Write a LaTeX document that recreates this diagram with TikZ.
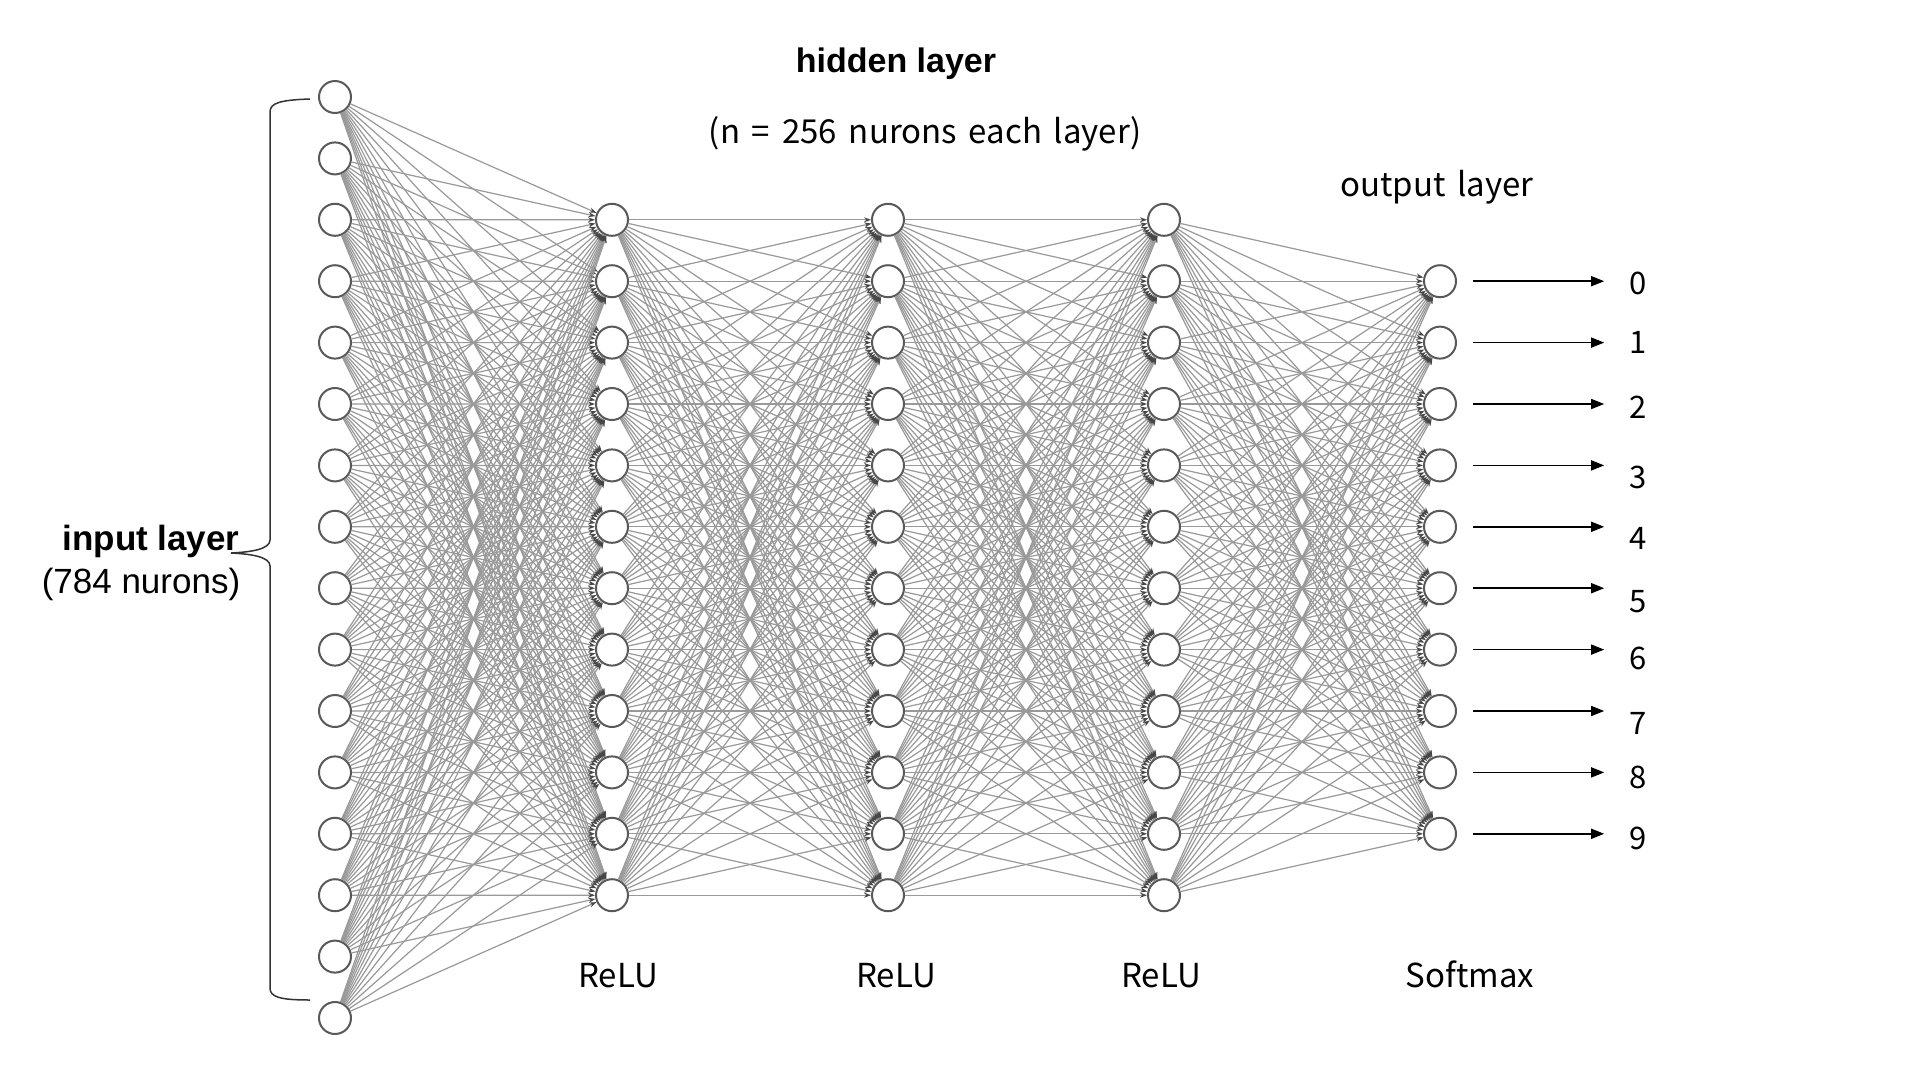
\documentclass[tikz,border=0pt]{standalone}
\usepackage{fontspec}
\setmainfont{Liberation Sans}
\newfontfamily\yhfont[WordSpace=1.6]{Noto Sans CJK SC}
\usetikzlibrary{arrows.meta}
\begin{document}
\begin{tikzpicture}[x=1pt,y=-1pt,
  neuron/.style={circle,draw=black!65,line width=2pt,fill=white,minimum size=32pt,inner sep=0pt},
  conn/.style={draw=black!40,line width=1.2pt,-{Stealth[length=7pt,width=5pt,color=black!72]}},
  outarrow/.style={draw=black,line width=1.5pt,-{Triangle[length=13pt,width=10pt]}},
  lbl/.style={font=\yhfont\fontsize{33}{38}\selectfont,anchor=base,inner sep=0pt},
  digit/.style={font=\yhfont\fontsize{31}{36}\selectfont,anchor=center,inner sep=0pt},
  boldlbl/.style={font=\bfseries\fontsize{34}{40}\selectfont,anchor=base,inner sep=0pt},
  inlbl/.style={font=\bfseries\fontsize{35}{40}\selectfont,anchor=base,inner sep=0pt},
  reglbl/.style={font=\fontsize{35}{40}\selectfont,anchor=base,inner sep=0pt}]
\useasboundingbox[fill=white] (0,0) rectangle (1920,1080);

% neurons
\foreach \k in {0,...,15} \node[neuron] (i\k) at (335,{97+61.4*\k}) {};
\foreach \k in {0,...,11} {
  \node[neuron] (a\k) at (612,{219.8+61.4*\k}) {};
  \node[neuron] (b\k) at (888,{219.8+61.4*\k}) {};
  \node[neuron] (c\k) at (1164,{219.8+61.4*\k}) {};
}
\foreach \k in {0,...,9} \node[neuron] (o\k) at (1440,{281.2+61.4*\k}) {};

% connections
\foreach \s in {0,...,15} \foreach \t in {0,...,11} \draw[conn] (i\s) -- (a\t);
\foreach \s in {0,...,11} \foreach \t in {0,...,11} {
  \draw[conn] (a\s) -- (b\t);
  \draw[conn] (b\s) -- (c\t);
}
\foreach \s in {0,...,11} \foreach \t in {0,...,9} \draw[conn] (c\s) -- (o\t);

% output digits and arrows
\foreach \k/\yy in {0/283,1/342,2/407,3/477,4/538,5/602,6/658,7/723,8/777,9/838} {
  \node[digit] (d\k) at (1638,\yy) {\k};
  \draw[outarrow] ([xshift=16pt]o\k.east) -- ([xshift=-25pt]d\k.west |- o\k.east);
}

% brace for input layer
\draw[black!80,line width=1.5pt] (310,99) .. controls (280,100) and (270,103) .. (270,112)
  -- (270,540) .. controls (270,549) and (252,552) .. (231,553)
  .. controls (252,554) and (270,557) .. (270,566)
  -- (270,988) .. controls (270,997) and (280,1000) .. (310,1000);

% texts
\node[boldlbl] (hl) at (896,72) {hidden layer};
\node[lbl] (nn) at (925,143) {(n = 256 nurons each layer)};
\node[lbl] (ol) at (1437,196) {output layer};
\node[inlbl] (il) at (151,550) {input layer};
\node[reglbl] (ic) at (141,593) {(784 nurons)};
\node[lbl] (r1) at (618,987) {ReLU};
\node[lbl] (r2) at (896,987) {ReLU};
\node[lbl] (r3) at (1161,987) {ReLU};
\node[lbl] (sm) at (1470,987) {Softmax};
\end{tikzpicture}
\end{document}
